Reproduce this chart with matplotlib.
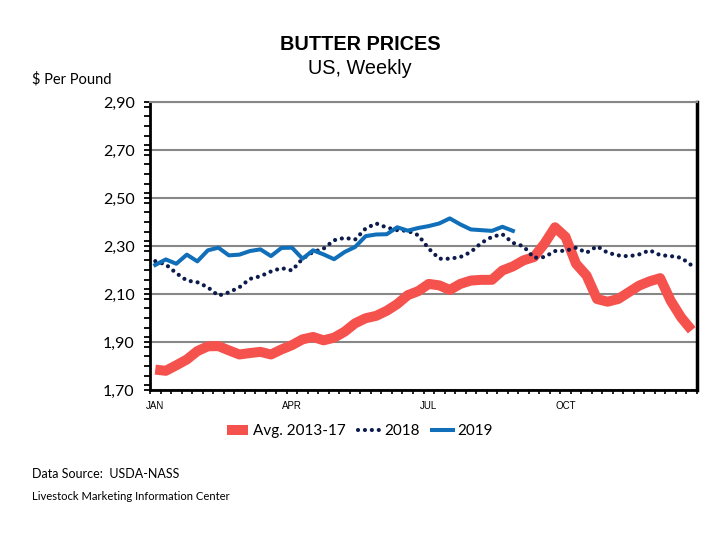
import numpy as np
import matplotlib
matplotlib.use("Agg")
import matplotlib.pyplot as plt
from matplotlib.ticker import FixedLocator, FuncFormatter, MultipleLocator

# ---------------------------------------------------------
# Butter prices, US weekly: 5-yr average vs 2018 vs 2019
# ---------------------------------------------------------

weeks = np.arange(52)

avg_2013_17 = [1.785, 1.78, 1.803, 1.827, 1.862, 1.882, 1.883, 1.865, 1.848, 1.854,
               1.859, 1.848, 1.869, 1.887, 1.911, 1.921, 1.907, 1.918, 1.943, 1.978,
               1.999, 2.009, 2.030, 2.058, 2.095, 2.112, 2.142, 2.136, 2.117, 2.142,
               2.156, 2.159, 2.159, 2.198, 2.215, 2.240, 2.254, 2.310, 2.378, 2.338,
               2.226, 2.177, 2.079, 2.068, 2.079, 2.107, 2.135, 2.153, 2.166, 2.072,
               2.002, 1.949]

prices_2018 = [2.237, 2.223, 2.187, 2.156, 2.149, 2.128, 2.093, 2.107, 2.128, 2.163,
               2.174, 2.194, 2.208, 2.198, 2.247, 2.275, 2.289, 2.324, 2.334, 2.327,
               2.373, 2.394, 2.377, 2.366, 2.363, 2.345, 2.289, 2.247, 2.247, 2.254,
               2.275, 2.313, 2.338, 2.349, 2.313, 2.299, 2.251, 2.254, 2.279, 2.280,
               2.293, 2.272, 2.299, 2.272, 2.261, 2.257, 2.265, 2.282, 2.262, 2.258,
               2.251, 2.219]

prices_2019 = [2.221, 2.244, 2.226, 2.264, 2.236, 2.282, 2.293, 2.261, 2.264, 2.279,
               2.286, 2.258, 2.292, 2.293, 2.247, 2.282, 2.265, 2.245, 2.275, 2.296,
               2.341, 2.348, 2.349, 2.378, 2.364, 2.375, 2.383, 2.394, 2.415, 2.390,
               2.369, 2.366, 2.363, 2.380, 2.363]

month_pos = [0, 13, 26, 39]
month_labels = ['JAN', 'APR', 'JUL', 'OCT']

RED = '#F5524E'
NAVY = '#0C1B4B'
BLUE = '#106FB8'
GRID = '#878787'
CAL = ['Lato', 'DejaVu Sans']
ARIAL = ['Liberation Sans', 'DejaVu Sans']

fig = plt.figure(figsize=(7.2, 5.4), dpi=100)
ax = fig.add_axes([150 / 720, 1 - 390 / 540, 547 / 720, 288 / 540])

ax.plot(weeks, avg_2013_17, color=RED, lw=7.2, solid_joinstyle='round',
        solid_capstyle='butt', label='Avg. 2013-17', zorder=3)
ax.plot(weeks, prices_2018, color=NAVY, lw=3.0, linestyle=(0, (0.01, 1.65)),
        dash_capstyle='round', label='2018', zorder=4)
ax.plot(np.arange(len(prices_2019)), prices_2019, color=BLUE, lw=2.9,
        solid_joinstyle='round', label='2019', zorder=5)

ax.set_xlim(-0.5, 51.5)
ax.set_ylim(1.70, 2.90)

# y axis
ax.yaxis.set_major_locator(FixedLocator([1.70, 1.90, 2.10, 2.30, 2.50, 2.70, 2.90]))
ax.yaxis.set_minor_locator(MultipleLocator(0.04))
ax.yaxis.set_major_formatter(FuncFormatter(lambda v, p: f'{v:.2f}'.replace('.', ',')))
ax.tick_params(axis='y', which='both', direction='out', length=4, width=1.3,
               color='black', pad=7)
for lab in ax.get_yticklabels():
    lab.set_family(CAL)
    lab.set_fontsize(11.5)

# x axis
ax.set_xticks(month_pos)
ax.set_xticklabels(month_labels, family=ARIAL, fontsize=7)
ax.set_xticks(np.arange(-0.5, 52, 1), minor=True)
ax.tick_params(axis='x', which='major', length=0, pad=8)
ax.tick_params(axis='x', which='minor', direction='out', length=3, width=1.2,
               color='black')

ax.grid(axis='y', which='major', color=GRID, lw=1.5, zorder=1)
ax.set_axisbelow(True)

for side in ['left', 'bottom']:
    ax.spines[side].set_color('black')
    ax.spines[side].set_linewidth(2)
ax.spines['right'].set_color('black')
ax.spines['right'].set_linewidth(2.5)
ax.spines['top'].set_color(GRID)
ax.spines['top'].set_linewidth(1.5)

# titles and notes
fig.text(0.5, 1 - 44 / 540, 'BUTTER PRICES', ha='center', va='center',
         family=ARIAL, fontsize=14.3, fontweight='bold')
fig.text(0.5, 1 - 68 / 540, 'US, Weekly', ha='center', va='center',
         family=ARIAL, fontsize=14.3)
fig.text(32 / 720, 1 - 79 / 540, '$ Per Pound', ha='left', va='center',
         family=CAL, fontsize=10.5)
fig.text(32 / 720, 1 - 474 / 540, 'Data Source:  USDA-NASS', ha='left', va='center',
         family=CAL, fontsize=9)
fig.text(32 / 720, 1 - 497 / 540, 'Livestock Marketing Information Center',
         ha='left', va='center', family=CAL, fontsize=8.1)

leg = fig.legend(loc='center', bbox_to_anchor=(0.5, 1 - 431 / 540), ncol=3,
                 frameon=False, prop={'family': CAL, 'size': 11},
                 handlelength=1.4, handletextpad=0.3, columnspacing=0.8)

fig.savefig('out.png', dpi=100)
